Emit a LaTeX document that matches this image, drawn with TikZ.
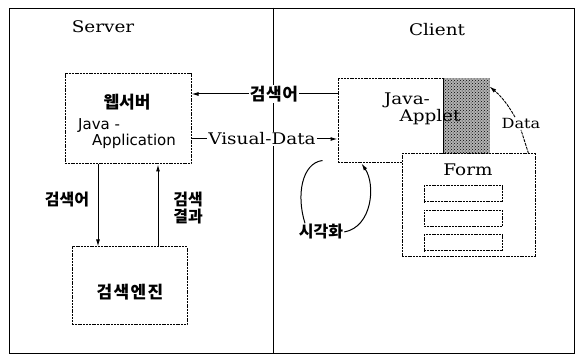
\documentclass[tikz,border=0pt]{standalone}
\usepackage{fontspec}
\setmainfont[FakeStretch=1.15]{DejaVu Serif}
\newfontfamily\krfont{Noto Sans CJK KR}
\newfontfamily\javafont{DejaVu Sans}
\usetikzlibrary{positioning,arrows.meta,patterns}

\begin{document}
\begin{tikzpicture}[x=1pt, y=1pt,
  box/.style={draw, dash pattern=on 2pt off 0.8pt, line width=1pt, inner sep=0pt},
  field/.style={box, minimum width=78pt, minimum height=16pt},
  title/.style={font=\fontsize{16}{19}\selectfont, inner sep=1pt},
  ktext/.style={font=\krfont\bfseries\fontsize{16}{17}\selectfont, inner sep=1pt},
  jtext/.style={font=\javafont\fontsize{15}{18}\selectfont, inner sep=0pt},
  arr/.style={-{Latex[length=7pt,width=4pt]}, line width=1pt}
]
  \useasboundingbox (0,0) rectangle (580,355);

  % frame and divider
  \node[draw, line width=0.9pt, minimum width=565pt, minimum height=345pt, inner sep=0pt] (frame) at (291.5,174.5) {};
  \coordinate (divider) at (273,0);
  \draw[line width=0.9pt] (frame.north -| divider) -- (frame.south -| divider);

  \node[title] (server) at (103,328) {Server};
  \node[title] (client) at (437,325) {Client};

  % server side
  \node[box, minimum width=126pt, minimum height=90pt] (websrv) at (128,236) {};
  \node[ktext, font=\krfont\bfseries\fontsize{17}{19}\selectfont] (wslbl) at (127,253) {웹서버};
  \node[jtext, anchor=west] (java1) at (78,229) {Java -};
  \node[jtext] (java2) at (134,214) {Application};

  \node[box, minimum width=115pt, minimum height=78pt] (engine) at (129.5,69) {};
  \node[ktext, font=\krfont\bfseries\fontsize{17}{19}\selectfont\addfontfeature{LetterSpace=8}] (englbl) at (130,63) {검색엔진};

  \draw[arr] ([xshift=-30pt]websrv.south) -- ([xshift=-30pt]websrv.south |- engine.north);
  \draw[arr] ([xshift=30pt]websrv.south |- engine.north) -- ([xshift=30pt]websrv.south);
  \node[ktext] (query2) at (67,155) {검색어};
  \node[ktext, align=center] (result) at (188,147) {검색\\결과};

  % client side
  \node[box, minimum width=151pt, minimum height=84pt] (applet) at (413.5,234) {};
  \coordinate (hatchsw) at (443,201);
  \fill[gray!60] (hatchsw) rectangle (applet.north east);
  \path[pattern=crosshatch dots, pattern color=black] (hatchsw) rectangle (applet.north east);
  \draw[line width=1pt] (hatchsw) -- (hatchsw |- applet.north);
  \node[title] (appl1) at (407,255) {Java-};
  \node[title] (appl2) at (430,237.5) {Applet};

  \node[box, fill=white, minimum width=133pt, minimum height=103pt] (form) at (468.5,149.5) {};
  \node[title] (formlbl) at (468,185) {Form};
  \node[field] (f1) at (463,161) {};
  \node[field, below=7.5pt of f1] (f2) {};
  \node[field, below=7.5pt of f2] (f3) {};

  \node[title, font=\fontsize{14}{17}\selectfont] (data) at (521,231.5) {Data};
  \draw[line width=0.9pt, dash pattern=on 3pt off 1pt] ([xshift=-7pt]form.north east) -- (data.south);
  \draw[arr, line width=0.9pt, dash pattern=on 3pt off 1pt] ([xshift=-6pt]data.north) to[out=120, in=-40] ([yshift=-8pt]applet.north east);

  \node[ktext] (vis) at (321,123) {시각화};
  \draw[line width=1pt] ([xshift=-15pt,yshift=3pt]applet.south west) .. controls (302,192) and (296,160) .. ([xshift=-16pt]vis.north);
  \draw[arr] (vis.east) .. controls (372,128) and (376,170) .. ([xshift=24pt]applet.south west);

  % messages between server and client
  \node[ktext, font=\krfont\bfseries\fontsize{17}{19}\selectfont\addfontfeature{LetterSpace=4}, fill=white] (query1) at (274,261) {검색어};
  \draw[line width=1pt] (applet.west |- query1) -- (query1.east);
  \draw[arr] (query1.west) -- (websrv.east |- query1);
  \node[title, fill=white] (vdata) at (262,216) {Visual-Data};
  \draw[line width=1pt] (websrv.east |- vdata) -- (vdata.west);
  \draw[arr] (vdata.east) -- (applet.west |- vdata);
\end{tikzpicture}
\end{document}
